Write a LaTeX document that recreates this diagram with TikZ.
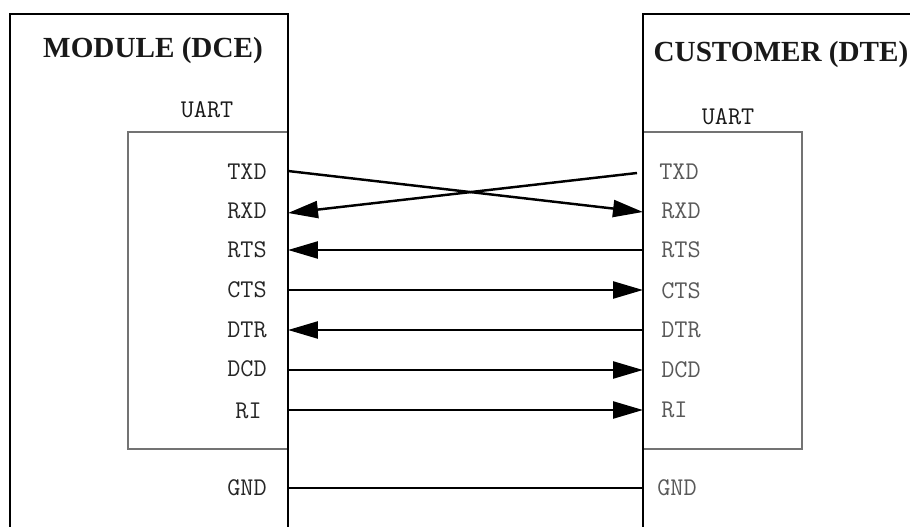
\documentclass[tikz,border=0pt]{standalone}
\usepackage{fontspec}
\setmainfont{Liberation Serif}
\usetikzlibrary{arrows.meta, positioning}

\newcommand{\pinfont}{\fontsize{14.5}{17}\selectfont\ttfamily}

\tikzset{
    outer/.style={draw=black, line width=1.5pt},
    inner/.style={draw=black!55, line width=1.2pt},
    title/.style={font=\fontsize{16.6}{20}\selectfont\bfseries, text=black!90, inner sep=0pt},
    uart/.style={font=\pinfont, text=black!90, inner sep=0pt},
    pinL/.style={anchor=east, font=\pinfont, text=black!85, inner sep=0pt},
    pinR/.style={anchor=west, font=\pinfont, text=black!65, inner sep=0pt},
    wire/.style={draw=black, line width=1.4pt}
}

\begin{document}
\begin{tikzpicture}[x=0.02cm, y=-0.02cm, >={Triangle[length=0.6cm, width=0.34cm]}]
    \useasboundingbox (0,0) rectangle (910,527);
    \clip (0,0) rectangle (910,527);

    % Boxes
    \draw[inner] (128,132) rectangle (288,449);
    \draw[inner] (643,132) rectangle (802,449);
    \draw[outer] (10,540) -- (10,14) -- (288,14) -- (288,540);
    \draw[outer] (643,540) -- (643,14) -- (920,14);

    % Titles
    \node[title] (module) at (153,50) {MODULE (DCE)};
    \node[title] (customer) at (781,54) {CUSTOMER (DTE)};
    \node[uart] (uartL) at (207,110) {UART};
    \node[uart] (uartR) at (728,117) {UART};

    % Pins, module side
    \node[pinL] (mTXD) at (267,172) {TXD};
    \node[pinL] (mRXD) at (267,211) {RXD};
    \node[pinL] (mRTS) at (267,250) {RTS};
    \node[pinL] (mCTS) at (267,290) {CTS};
    \node[pinL] (mDTR) at (267,330) {DTR};
    \node[pinL] (mDCD) at (267,369) {DCD};
    \node[pinL] (mRI) at (262,411) {RI};
    \node[pinL] (mGND) at (267,488) {GND};

    % Pins, customer side
    \node[pinR] (cTXD) at (659,172) {TXD};
    \node[pinR] (cRXD) at (661,211) {RXD};
    \node[pinR] (cRTS) at (661,250) {RTS};
    \node[pinR] (cCTS) at (661,291) {CTS};
    \node[pinR] (cDTR) at (661,330) {DTR};
    \node[pinR] (cDCD) at (661,370) {DCD};
    \node[pinR] (cRI) at (661,410) {RI};
    \node[pinR] (cGND) at (657,488) {GND};

    % Wire ends
    \coordinate (mtxd) at (288,171);
    \coordinate (mrxd) at (288,213);
    \coordinate (ctxd) at (637,173);
    \coordinate (crxd) at (643,212);

    % Wires
    \draw[wire, ->] (mtxd) -- (crxd);
    \draw[wire, ->] (ctxd) -- (mrxd);
    \draw[wire, <-] (mRTS.east -| mtxd) -- (mRTS.east -| crxd);
    \draw[wire, ->] (mCTS.east -| mtxd) -- (mCTS.east -| crxd);
    \draw[wire, <-] (mDTR.east -| mtxd) -- (mDTR.east -| crxd);
    \draw[wire, ->] (cDCD.west -| mtxd) -- (cDCD.west -| crxd);
    \draw[wire, ->] (cRI.west -| mtxd) -- (cRI.west -| crxd);
    \draw[wire] (mGND.east -| mtxd) -- (mGND.east -| crxd);
\end{tikzpicture}
\end{document}
